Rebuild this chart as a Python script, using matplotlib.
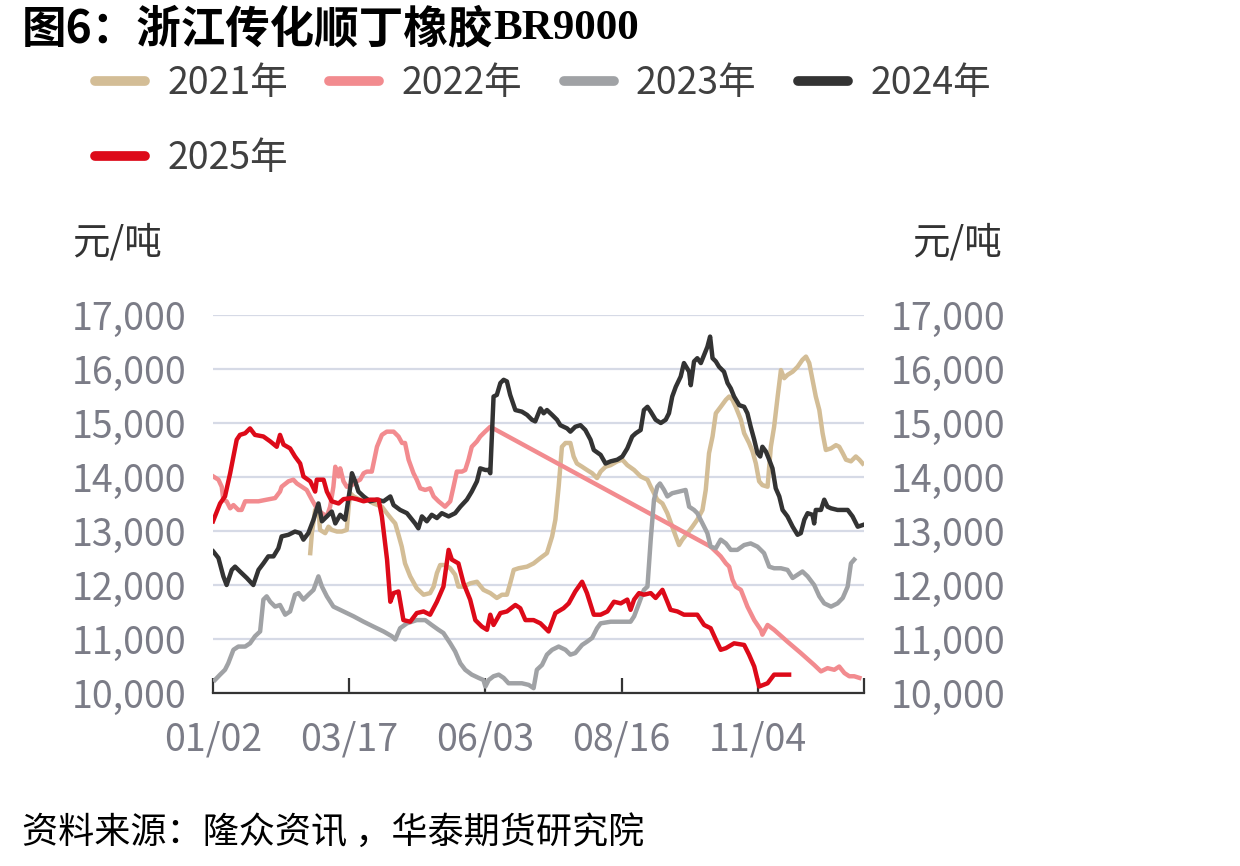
import matplotlib

matplotlib.use("Agg")
import matplotlib.pyplot as plt
from matplotlib.lines import Line2D
from matplotlib.ticker import FuncFormatter

plt.rcParams["font.family"] = ["Noto Sans CJK SC", "DejaVu Sans"]

# x is the trading-day index along a shared calendar axis (0 = 01/02)
tick_pos = [0, 50, 100, 150, 200, 239]
tick_labels = ["01/02", "03/17", "06/03", "08/16", "11/04", ""]

x2021 = [35.7, 36.3, 37.5, 38.7, 39.3, 41.2, 42.4, 43.6, 45.5, 47.3, 49.1, 49.8, 50.4, 51.6, 54.0, 56.5,
         58.9, 62.0, 63.8, 65.7, 66.9, 68.1,
         69.3, 70.5, 72.4, 74.8, 77.3, 79.7, 81.0, 82.2, 83.4, 85.2, 87.1, 88.9, 90.1, 92.0, 94.4, 96.9,
         99.3, 101.8, 104.2, 106.1, 107.9, 109.1, 110.4, 112.2, 115.3, 117.7, 120.2, 122.6, 124.5, 125.7,
         126.9, 128.1, 129.4, 131.2, 132.4, 133.6, 135.5, 137.3, 139.2, 141.0,
         142.3, 144.1, 146.0, 148.4, 150.3, 152.1, 154.6, 157.0, 159.5, 160.7, 161.9, 163.1, 165.0, 166.8,
         168.6, 169.9, 171.1, 172.3, 174.2, 176.0, 177.8, 179.7, 180.9, 182.1, 183.4, 184.6, 186.4, 188.3,
         189.5, 190.7, 191.9, 193.8, 195.0, 196.8, 198.1, 199.3, 200.5, 201.7, 203.6, 204.2, 204.8, 206.0,
         207.3, 208.5, 209.7, 210.9, 212.8, 214.6, 216.4, 217.7, 218.9, 220.1, 221.3, 222.6, 223.8, 225.0,
         226.9, 228.7, 229.9, 231.2, 232.4, 234.2, 236.0, 237.3, 238.5]
y2021 = [12590, 12960, 13390, 13420, 13020, 12960, 13080, 13020, 12990, 12990, 13020, 13450, 13700, 13640,
         13580, 13580, 13510, 13450, 13330, 13210, 13140, 12930,
         12710, 12400, 12160, 11940, 11820, 11850, 11970, 12220, 12370, 12370, 12310, 12190, 11970, 11970,
         12030, 12060, 11910, 11850, 11760, 11820, 11820, 12030, 12280, 12310, 12340, 12400, 12500, 12590,
         12900, 13210, 13820, 14560, 14630, 14630, 14380, 14250, 14190, 14130, 14070, 13980,
         14100, 14190, 14220, 14290, 14320, 14220, 14130, 14010, 13950, 13820, 13700, 13580, 13510, 13330,
         13080, 12900, 12740, 12840, 12960, 13080, 13210, 13390, 13760, 14440, 14750, 15180, 15300, 15430,
         15490, 15430, 15300, 15060, 14810, 14630, 14470, 14250, 13920, 13850, 13820, 14190, 14560, 14930,
         15490, 15980, 15830, 15890, 15950, 16040, 16170, 16230, 16110, 15800, 15490, 15240, 14810, 14500,
         14530, 14590, 14560, 14440, 14320, 14290, 14380, 14320, 14250]

x2022 = [0.1, 2.0, 3.2, 3.8, 5.0, 6.3, 7.5, 9.3, 10.5, 11.8, 13.6, 16.7, 19.7, 22.8, 24.6, 25.2, 27.7,
         29.5, 30.8, 32.6, 34.4, 36.3, 38.1, 40.0, 41.8, 43.0, 44.2, 44.9, 46.1, 46.7, 47.9, 49.1, 51.0,
         52.8, 54.0, 55.3, 56.5, 58.3, 60.2, 62.0, 63.8, 66.3, 68.1, 69.4,
         70.5, 71.8, 73.6, 74.8, 76.1, 77.9, 79.7, 81.0, 82.8, 85.2, 87.1, 88.3, 89.5, 91.4, 92.6, 93.8,
         95.0, 96.9, 98.1, 99.9, 101.8,
         182.7, 185.2, 186.4, 188.3, 189.5, 190.7, 191.9, 193.8, 196.2, 198.7, 201.1, 201.7, 203.6, 206.0,
         210.9, 215.8, 220.7, 223.2, 225.6, 228.1, 229.9, 231.8, 233.6, 235.4, 237.3]
y2022 = [14010, 13950, 13820, 13580, 13550, 13420, 13480, 13390, 13390, 13550, 13550, 13550, 13580, 13610,
         13730, 13820, 13920, 13950, 13880, 13820, 13760, 13580, 13420, 13330, 13270, 13450, 13820, 14190,
         14010, 14160, 13920, 13820, 13850, 13920, 13950, 14070, 14100, 14100, 14560, 14780, 14840, 14840,
         14750, 14630,
         14630, 14320, 14070, 13950, 13790, 13760, 13790, 13640, 13550, 13450, 13550, 13820, 14100, 14100,
         14130, 14320, 14560, 14660, 14750, 14840, 14930,
         12710, 12590, 12530, 12400, 12340, 12100, 11970, 11910, 11600, 11350, 11170, 11080, 11260, 11170,
         10950, 10740, 10520, 10400, 10460, 10430, 10490, 10370, 10310, 10310, 10280]

x2023 = [0.7, 2.6, 4.4, 5.6, 7.5, 9.3, 11.8, 13.6, 15.4, 17.3, 18.5, 19.7, 21.0, 22.8, 24.6, 26.5, 28.3,
         30.1, 31.4, 33.2, 35.0, 36.9, 38.7, 40.0, 41.8, 44.2, 47.9, 51.6, 55.3, 58.9, 62.6, 65.7, 66.9,
         68.7, 71.2, 74.8, 77.9, 80.3, 82.8, 84.6, 87.1, 88.9, 90.8, 92.6, 95.0, 97.5, 99.3, 100.0, 101.2,
         103.0, 104.9, 106.7, 108.5, 111.0, 113.4, 115.9, 117.7, 118.9, 120.8, 122.6, 124.5, 126.9, 129.4,
         131.2, 133.0, 135.5, 137.3, 139.2, 141.0,
         142.3, 146.0, 149.7, 153.3, 154.6, 156.4, 158.2, 159.5, 160.7, 161.9, 163.1, 164.1, 165.6, 166.8,
         168.6, 171.1, 173.5, 174.8, 176.6, 177.8, 179.7, 181.5, 182.7, 184.6, 186.4, 188.3, 190.1, 192.5,
         195.0, 197.4, 199.9, 202.3, 204.2, 206.0, 208.5, 210.9, 212.8, 214.6, 216.4, 218.3, 220.7, 222.6,
         224.4, 226.9, 229.3, 231.2, 233.0, 234.2, 235.4]
y2023 = [10240, 10340, 10430, 10550, 10800, 10860, 10860, 10920, 11050, 11140, 11730, 11790, 11690, 11600,
         11630, 11450, 11510, 11820, 11850, 11730, 11820, 11910, 12160, 11970, 11790, 11600, 11510, 11420,
         11320, 11230, 11140, 11050, 10990,
         11200, 11290, 11350, 11350, 11260, 11170, 11110, 10920, 10770, 10550, 10430, 10340, 10280, 10240,
         10120, 10240, 10310, 10340, 10280, 10180, 10180, 10180, 10150, 10090, 10430, 10520, 10710, 10800,
         10860, 10800, 10710, 10740, 10890, 10950, 11020, 11200,
         11290, 11320, 11320, 11320, 11420, 11660, 11910, 11970, 12840, 13580, 13820, 13880, 13760, 13640,
         13700, 13730, 13760, 13450, 13390, 13330, 13140, 12960, 12710, 12680, 12840, 12770, 12650, 12650,
         12740, 12770, 12710, 12590, 12340, 12310, 12310, 12280, 12130, 12190, 12250, 12160, 12000, 11790,
         11660, 11600, 11660, 11760, 11970, 12400, 12470]

x2024 = [0.1, 2.0, 3.8, 5.0, 6.9, 8.1, 9.9, 12.4, 14.8, 16.7, 18.5, 20.3, 22.2, 24.0, 25.2, 27.7, 30.1,
         32.0, 33.2, 35.0, 36.9, 38.7, 40.0, 41.8, 43.6, 44.9, 46.7, 48.5, 49.1, 50.4, 51.0, 52.2, 53.4,
         55.3, 57.7, 60.2, 62.6, 65.1, 66.3,
         68.7, 71.2, 74.2, 75.4, 76.7, 78.5, 80.3, 82.2, 84.0, 86.5, 88.9, 90.8, 93.2, 95.0, 96.9, 98.1,
         100.0, 101.2, 101.8, 103.0, 104.2, 105.5, 106.7, 107.9, 109.1, 111.0, 113.4, 115.3, 117.1, 118.3,
         120.2, 121.4, 122.6, 124.5, 126.3, 127.5, 130.0, 131.2, 133.0, 134.9, 136.7, 138.6, 139.8,
         142.3, 144.1, 146.0, 148.4, 150.3, 152.1, 153.9, 155.2, 157.0, 158.2, 159.5, 160.7, 162.5, 164.4,
         166.2, 167.4, 168.6, 169.9, 171.7, 172.9, 174.8, 175.4, 176.6, 177.8, 179.1, 180.3, 181.5, 182.5,
         183.4, 184.6, 185.8, 187.6, 188.9, 190.1, 191.3, 193.2, 195.0, 196.2, 197.4, 198.7, 199.9, 200.9,
         201.7, 203.0, 204.2, 205.4, 206.6, 207.9, 209.1, 210.9, 212.8, 214.6, 215.8, 217.1, 218.3, 220.1,
         220.7, 221.3, 223.2, 224.4, 225.6, 226.9, 229.3, 233.0, 234.8, 236.7, 238.5]
y2024 = [12620, 12500, 12160, 12000, 12280, 12340, 12250, 12130, 12000, 12280, 12400, 12530, 12530, 12680,
         12900, 12930, 12990, 12960, 12840, 12960, 13210, 13510, 13180, 13270, 13360, 13140, 13300, 13210,
         13390, 13820, 14070, 13920, 13730, 13640, 13550, 13580, 13550, 13640, 13480,
         13390, 13330, 13140, 13050, 13270, 13180, 13300, 13240, 13330, 13270, 13330, 13450, 13580, 13730,
         13920, 14160, 14130, 14130, 14070, 15490, 15520, 15740, 15800, 15770, 15520, 15240, 15210, 15150,
         15060, 15030, 15270, 15180, 15240, 15150, 15060, 14960, 14900, 14840, 14930, 14960, 14870, 14690,
         14500,
         14410, 14250, 14290, 14320, 14380, 14530, 14750, 14810, 14870, 15240, 15300, 15210, 15060, 15000,
         15060, 15180, 15490, 15670, 15860, 16110, 15950, 15700, 16140, 16200, 16110, 16260, 16410, 16600,
         16200, 16140, 16040, 15950, 15740, 15640, 15490, 15330, 15300, 15180, 14930, 14690, 14440, 14380,
         14560, 14470, 14320, 14160, 13790, 13640, 13390, 13270, 13080, 12930, 12960, 13210, 13330, 13300,
         13140, 13390, 13390, 13580, 13450, 13420, 13390, 13390, 13270, 13080, 13110]

x2025 = [0.0, 2.6, 4.4, 6.3, 8.7, 9.9, 11.8, 13.6, 15.4, 18.5, 21.0, 23.4, 24.6, 25.9, 28.3, 30.1, 32.0,
         33.2, 35.7, 37.5, 38.1, 40.6, 41.8, 43.6, 46.1, 47.9, 51.0, 52.8, 55.3, 57.7, 60.8, 62.0, 63.9,
         65.1, 66.3, 68.1,
         69.9, 72.4, 74.8, 77.3, 79.7, 82.2, 84.6, 86.5, 87.7, 90.1, 92.0, 94.4, 96.3, 98.7, 100.6, 101.8,
         103.0, 105.5, 107.9, 111.0, 112.8, 114.7, 117.7, 120.2, 123.2, 125.7, 128.7, 130.6, 133.0, 135.5,
         137.3, 139.8,
         142.3, 144.8, 147.2, 149.7, 152.1, 153.3, 154.6, 156.4, 158.2, 160.7, 162.5, 165.0, 166.8, 168.0,
         170.5, 172.9, 177.8, 180.3, 182.7, 184.6, 186.4, 188.3, 191.3, 195.0, 196.8, 198.7, 200.5, 203.6,
         206.0, 209.1, 211.5]
y2025 = [13180, 13510, 13640, 14070, 14690, 14780, 14810, 14900, 14780, 14750, 14660, 14560, 14780, 14600,
         14530, 14380, 14250, 14010, 13920, 13730, 13950, 13950, 13730, 13550, 13510, 13590, 13610, 13590,
         13550, 13580, 13580, 13270, 12470, 11690, 11850, 11880,
         11350, 11320, 11480, 11510, 11450, 11690, 11970, 12650, 12470, 12400, 12030, 11730, 11350, 11230,
         11170, 11450, 11260, 11480, 11510, 11630, 11570, 11350, 11350, 11290, 11140, 11480, 11570, 11660,
         11880, 12060, 11850, 11450,
         11450, 11510, 11690, 11660, 11730, 11540, 11730, 11850, 11820, 11850, 11760, 11910, 11690, 11540,
         11510, 11450, 11450, 11260, 11200, 10990, 10800, 10830, 10920, 10890, 10710, 10490, 10120, 10180,
         10340, 10340, 10340]

series = [
    ("2021年", x2021, y2021, "#d3bd96"),
    ("2022年", x2022, y2022, "#f28b8f"),
    ("2023年", x2023, y2023, "#a0a2a5"),
    ("2024年", x2024, y2024, "#333333"),
    ("2025年", x2025, y2025, "#dd0a19"),
]

W, H = 1240, 866
TICK_GRAY = "#7b7c87"

fig = plt.figure(figsize=(W / 100, H / 100), dpi=100)
ax = fig.add_axes([213 / W, 1 - 693 / H, (864 - 213) / W, (693 - 315) / H])

for name, xs, ys, color in series:
    ax.plot(xs, ys, color=color, lw=3.2, label=name)

ax.set_xlim(0, 239)
ax.set_ylim(10000, 17000)
ax.set_yticks(range(10000, 17001, 1000))
ax.yaxis.set_major_formatter(FuncFormatter(lambda v, _: f"{int(v):,}"))
ax.set_xticks(tick_pos)
ax.set_xticklabels(tick_labels)

ax.yaxis.grid(True, color="#d6dae6", lw=1.6)
ax.set_axisbelow(True)
for side in ("left", "right", "top"):
    ax.spines[side].set_visible(False)
ax.spines["bottom"].set_color("#333333")
ax.spines["bottom"].set_linewidth(1.6)

ax.tick_params(axis="y", length=0, pad=19, labelsize=27, labelcolor=TICK_GRAY,
               labelleft=True, labelright=True)
ax.tick_params(axis="x", direction="in", length=11, width=1.6, color="#333333",
               pad=20, labelsize=27, labelcolor=TICK_GRAY)

# unit labels on both sides
fig.text(72 / W, 1 - 243 / H, "元/吨", fontsize=27, color="#333333", va="center")
fig.text(912 / W, 1 - 243 / H, "元/吨", fontsize=27, color="#333333", va="center")

# legend: reorder so that the fifth entry falls under the first one
proxies = {name: Line2D([], [], color=c, lw=7, solid_capstyle="round") for name, _, _, c in series}
order = ["2021年", "2025年", "2022年", "2023年", "2024年"]
fig.legend([proxies[n] for n in order], order, ncol=4, loc="upper left",
           bbox_to_anchor=(95 / W, 1 - 64 / H), frameon=False, fontsize=27,
           handlelength=1.33, handletextpad=0.6, columnspacing=1.1, labelspacing=0.95,
           borderpad=0, borderaxespad=0, labelcolor="#404040")

title = fig.text(22 / W, 1 - 29 / H, "图6：浙江传化顺丁橡胶", fontsize=32,
                 fontweight="bold", va="center", color="black")
ax.annotate("BR9000", xy=(1, 0.5), xycoords=title, va="center", ha="left",
            fontsize=31, fontweight="bold", family=["Liberation Serif", "DejaVu Serif"])

fig.text(22 / W, 1 - 833 / H, "资料来源：隆众资讯 ，华泰期货研究院", fontsize=26,
         style="italic", va="center", color="black")

fig.savefig("out.png", dpi=100)
